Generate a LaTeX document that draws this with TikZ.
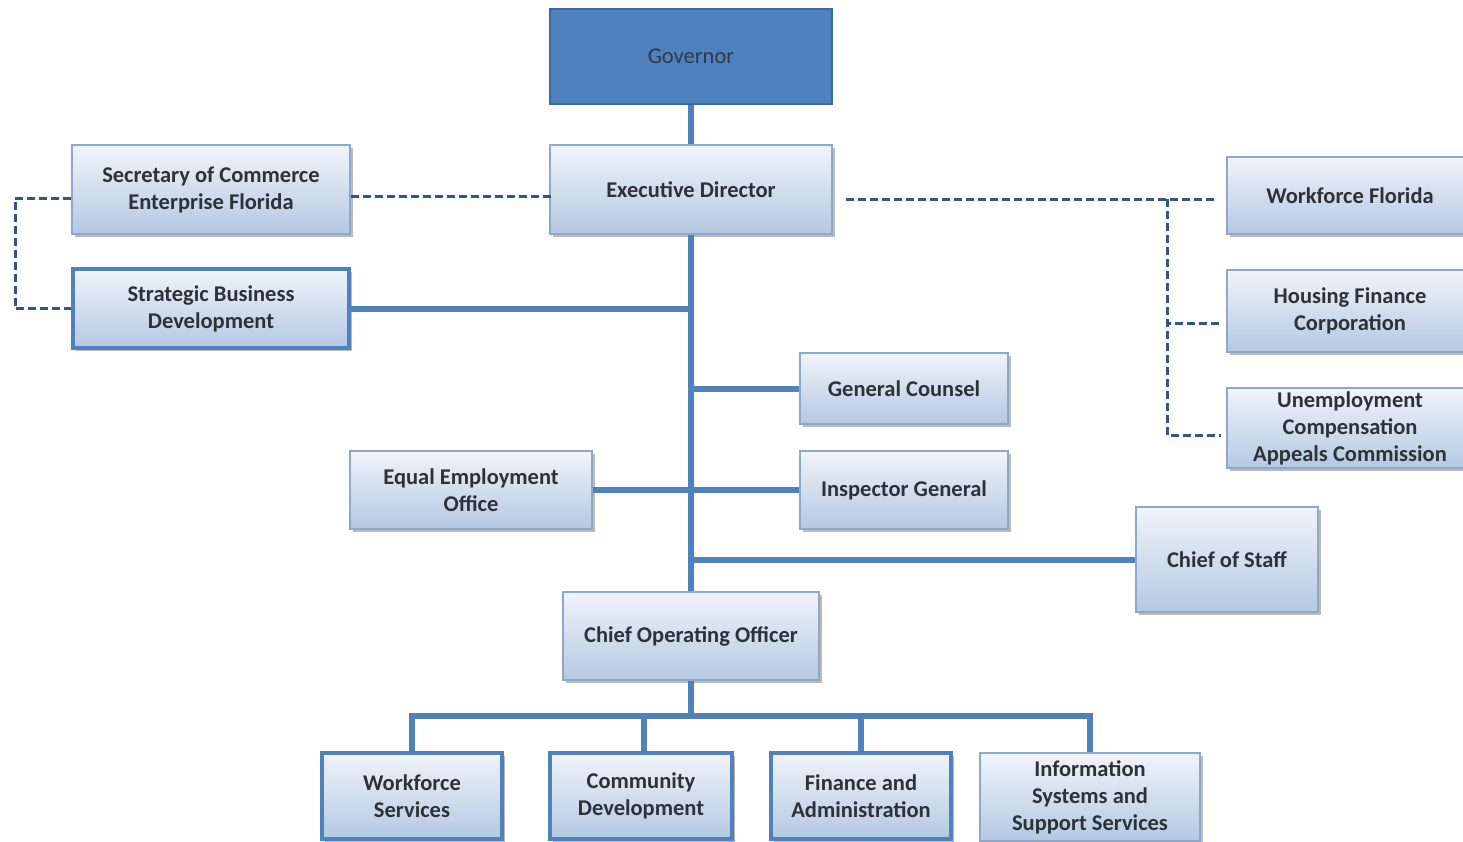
\documentclass[tikz,border=0pt]{standalone}
\usepackage{fontspec}
\setmainfont{Carlito}
\usetikzlibrary{shadows,calc}
\definecolor{lineblue}{HTML}{4F81BD}
\definecolor{govfill}{HTML}{4F81BD}
\definecolor{govdraw}{HTML}{3C69A3}
\definecolor{dashblue}{HTML}{34548A}
\definecolor{boxtop}{HTML}{F0F4FA}
\definecolor{boxbot}{HTML}{B4C8E2}
\definecolor{thinborder}{HTML}{8FA8C8}
\definecolor{txt}{HTML}{2E3238}
\begin{document}
\begin{tikzpicture}[x=1pt,y=-1pt,
  box/.style={rectangle, draw=thinborder, line width=1.3pt, top color=boxtop, bottom color=boxbot,
    align=center, text=txt, font=\fontsize{22.5}{27}\selectfont\bfseries, inner sep=2pt,
    drop shadow={shadow xshift=2.5pt, shadow yshift=-3pt, fill=black!45, opacity=0.6}},
  thickbox/.style={box, draw=lineblue, line width=4pt},
  solidline/.style={draw=lineblue, line width=6pt},
  dashline/.style={draw=dashblue, line width=3pt, dash pattern=on 8pt off 4pt}]
\clip (0,0) rectangle (1463,841);
\fill[white] (0,0) rectangle (1463,841);
% nodes
\node[rectangle, draw=govdraw, line width=1.5pt, fill=govfill, text=txt!85!govdraw,
  font=\fontsize{22.5}{27}\selectfont, minimum width=282pt, minimum height=95pt] (gov) at (691,56.5) {Governor};
\node[box, minimum width=282pt, minimum height=89pt] (ed) at (691,189.5) {Executive Director};
\node[box, minimum width=278pt, minimum height=89pt] (sec) at (211,189.5) {Secretary of Commerce\\Enterprise Florida};
\node[thickbox, minimum width=276pt, minimum height=79pt] (sbd) at (211,308.5) {Strategic Business\\Development};
\node[box, minimum width=246pt, minimum height=77pt] (wff) at (1350,195.5) {Workforce Florida};
\node[box, minimum width=246pt, minimum height=82pt] (hfc) at (1350,311) {Housing Finance\\Corporation};
\node[box, minimum width=246pt, minimum height=80pt] (ucac) at (1350,428) {Unemployment\\Compensation\\Appeals Commission};
\node[box, minimum width=208pt, minimum height=71pt] (gc) at (904,388.5) {General Counsel};
\node[box, minimum width=208pt, minimum height=78pt] (ig) at (904,490) {Inspector General};
\node[box, minimum width=242pt, minimum height=78pt] (eeo) at (471,490) {Equal Employment\\Office};
\node[box, minimum width=182pt, minimum height=105pt] (cos) at (1227,559.5) {Chief of Staff};
\node[box, minimum width=256pt, minimum height=88pt] (coo) at (691,636) {Chief Operating Officer};
\node[thickbox, minimum width=180pt, minimum height=86pt] (ws) at (412,796) {Workforce\\Services};
\node[thickbox, minimum width=182pt, minimum height=86pt] (cd) at (641,796) {Community\\Development};
\node[thickbox, minimum width=180pt, minimum height=86pt] (fa) at (861,796) {Finance and\\Administration};
\node[box, minimum width=220pt, minimum height=88pt] (iss) at (1090,797) {Information\\Systems and\\Support Services};
% solid connectors
\draw[solidline] (gov.south) -- (ed.north);
\draw[solidline] (ed.south) -- (coo.north);
\draw[solidline] (sbd.east) -- (sbd.east -| ed.south);
\draw[solidline] (gc.west) -- (gc.west -| ed.south);
\draw[solidline] (eeo.east) -- (ig.west);
\draw[solidline] (cos.west) -- (cos.west -| ed.south);
\coordinate (bus) at (691,716);
\draw[solidline] (coo.south) -- (bus);
\draw[solidline] (ws.north) -- (ws.north |- bus) -- (bus -| iss.north) -- (iss.north);
\draw[solidline] ([xshift=3pt]cd.north) -- ([xshift=3pt]cd.north |- bus);
\draw[solidline] (fa.north) -- (fa.north |- bus);
% dashed connectors
\draw[dashline] ([yshift=-6.5pt]sec.east) -- ([yshift=-6.5pt,xshift=5pt]ed.west);
\coordinate (lb) at (15,198);
\draw[dashline] ([yshift=-8.5pt]sec.west) -- (lb) |- (sbd.west);
\coordinate (rj) at (1167,199);
\draw[dashline] ([xshift=13pt,yshift=-9.5pt]ed.east) -- ([xshift=-10pt,yshift=-3.5pt]wff.west);
\draw[dashline] (rj) |- ([xshift=-5pt,yshift=-12pt]hfc.west);
\draw[dashline] (rj) |- ([xshift=-5pt,yshift=-7pt]ucac.west);
\end{tikzpicture}
\end{document}
